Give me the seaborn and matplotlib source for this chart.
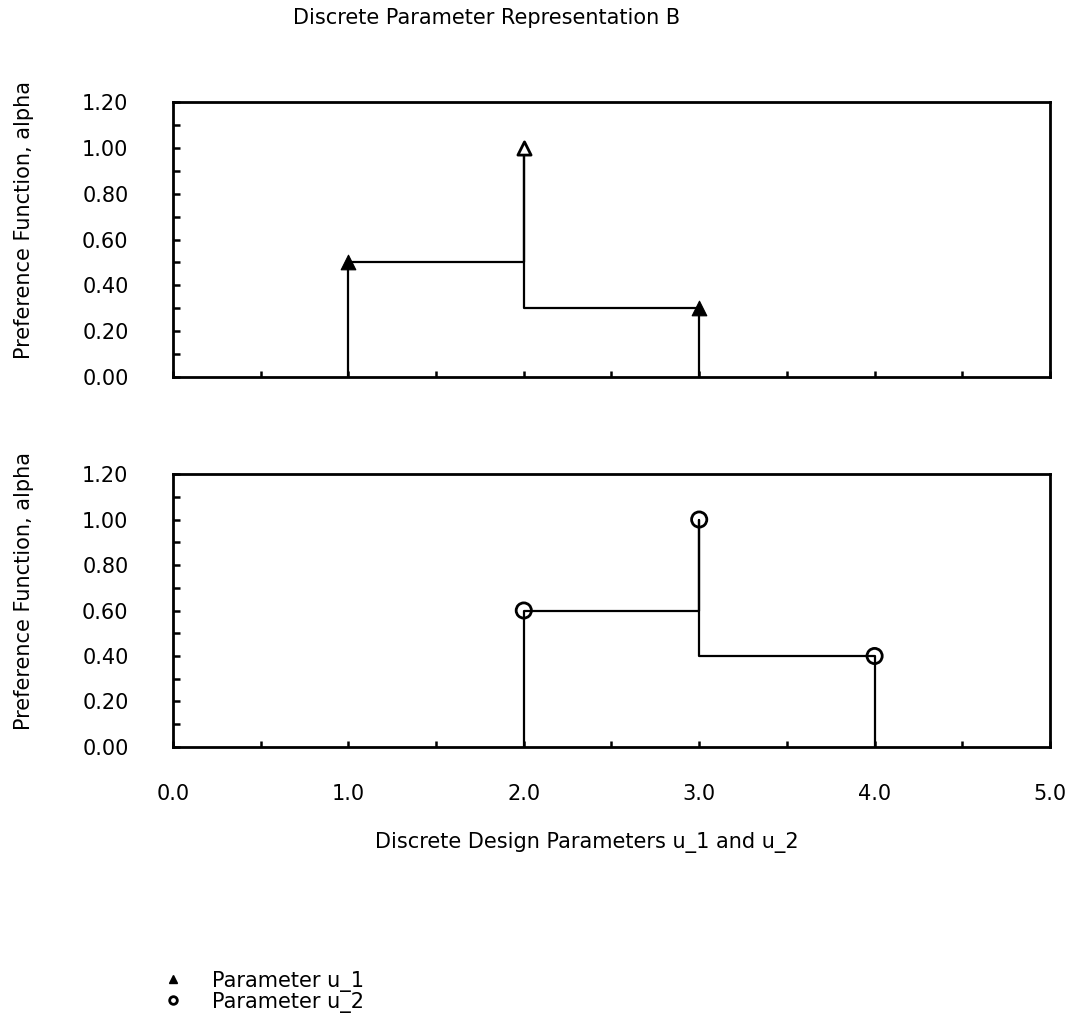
import matplotlib
matplotlib.use("Agg")
import matplotlib.pyplot as plt
from matplotlib.lines import Line2D
from matplotlib.ticker import MultipleLocator
import seaborn as sns
import pandas as pd

# Discrete parameter values and their preference levels
u1_values = [1.0, 2.0, 3.0]
u1_alpha = [0.5, 1.0, 0.3]
u2_values = [2.0, 3.0, 4.0]
u2_alpha = [0.6, 1.0, 0.4]

x_ticks = [0.0, 1.0, 2.0, 3.0, 4.0, 5.0]
y_ticks = [0.0, 0.2, 0.4, 0.6, 0.8, 1.0, 1.2]

sns.set_theme(style="white")
plt.rcParams["font.family"] = ["DejaVu Sans"]
for key in ("text.color", "axes.labelcolor", "xtick.color", "ytick.color"):
    plt.rcParams[key] = "black"
FS = 15


def outline(xs, ys):
    """Stem up at the first value, step across to each following value,
    drop to zero at the last."""
    px = [xs[0], xs[0], xs[1], xs[1], xs[1], xs[2], xs[2]]
    py = [0.0, ys[0], ys[0], ys[1], ys[2], ys[2], 0.0]
    return pd.DataFrame({"x": px, "y": py})


fig = plt.figure(figsize=(10.71, 10.17), dpi=100)
ax1 = fig.add_axes([0.1615, 0.6293, 0.8189, 0.2704])
ax2 = fig.add_axes([0.1615, 0.2655, 0.8189, 0.2684])

panels = [
    (ax1, u1_values, u1_alpha, "^"),
    (ax2, u2_values, u2_alpha, "o"),
]

for ax, xs, ys, mk in panels:
    path = outline(xs, ys)
    sns.lineplot(data=path, x="x", y="y", sort=False, estimator=None,
                 color="black", linewidth=1.6, ax=ax)
    pts = pd.DataFrame({"x": xs, "y": ys})
    if mk == "^":
        # outer triangles solid, peak triangle hollow
        sns.scatterplot(data=pts.iloc[[0, 2]], x="x", y="y", marker="^",
                        s=110, color="black", edgecolor="black", ax=ax, zorder=5)
        sns.scatterplot(data=pts.iloc[[1]], x="x", y="y", marker="^",
                        s=90, facecolor="white", edgecolor="black",
                        linewidth=2.0, ax=ax, zorder=5)
    else:
        sns.scatterplot(data=pts, x="x", y="y", marker="o", s=120,
                        facecolor="none", edgecolor="black", linewidth=2.0,
                        ax=ax, zorder=5)

    ax.set_xlim(0, 5)
    ax.set_ylim(0, 1.2)
    ax.set_xticks(x_ticks)
    ax.xaxis.set_minor_locator(MultipleLocator(0.5))
    ax.set_yticks(y_ticks)
    ax.yaxis.set_minor_locator(MultipleLocator(0.1))
    ax.set_yticklabels([f"{v:.2f}" for v in y_ticks], fontsize=FS)
    ax.tick_params(axis="both", which="both", direction="in", color="black",
                   width=1.8, bottom=True, left=True, top=False, right=False)
    ax.tick_params(axis="y", which="both", length=5)
    ax.tick_params(axis="y", which="major", pad=32)
    ax.tick_params(axis="x", which="both", length=4)
    ax.tick_params(axis="x", which="major", pad=27)
    ax.set_ylabel("Preference Function, alpha", fontsize=FS)
    ax.yaxis.set_label_coords(-0.159, 0.57)
    ax.set_xlabel("")
    for sp in ax.spines.values():
        sp.set_visible(True)
        sp.set_color("black")
        sp.set_linewidth(2.0)

ax1.set_xticklabels([])
ax2.set_xticklabels([f"{v:.1f}" for v in x_ticks], fontsize=FS)
ax2.set_xlabel("Discrete Design Parameters u_1 and u_2", fontsize=FS)
ax2.xaxis.set_label_coords(0.472, -0.313)

fig.text(0.454, 0.982, "Discrete Parameter Representation B", fontsize=FS,
         ha="center", va="center")

handles = [
    Line2D([], [], linestyle="none", marker="^", markersize=5.5,
           color="black"),
    Line2D([], [], linestyle="none", marker="o", markersize=5.5,
           markerfacecolor="white", markeredgecolor="black",
           markeredgewidth=2.0),
]
fig.legend(handles, ["Parameter u_1", "Parameter u_2"], loc="center left",
           bbox_to_anchor=(0.152, 0.025), frameon=False, fontsize=FS,
           labelspacing=0.0, handletextpad=1.35, handlelength=1.0,
           borderpad=0, borderaxespad=0)

fig.savefig("out.png", dpi=100, facecolor="white")
